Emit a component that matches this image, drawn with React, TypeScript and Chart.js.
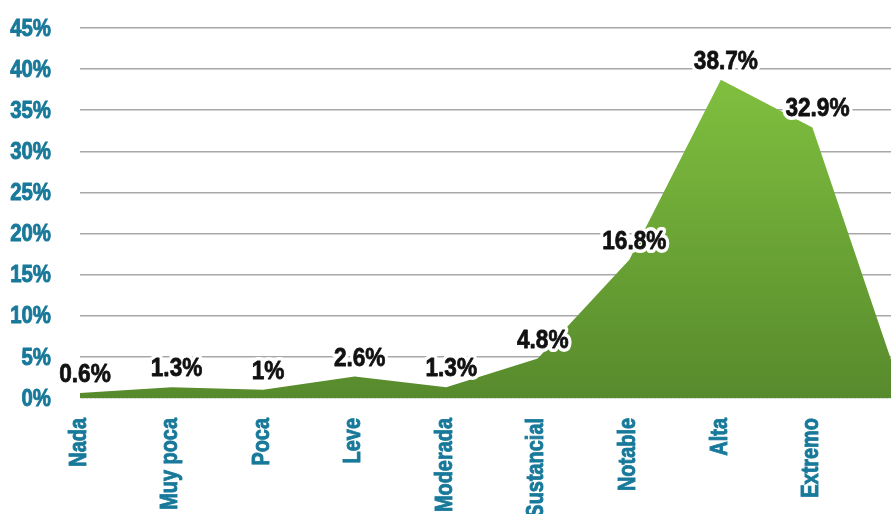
import React, { useEffect, useRef } from "react";
import { Chart, registerables } from "chart.js";

Chart.register(...registerables);

const categories = ["Nada", "Muy poca", "Poca", "Leve", "Moderada", "Sustancial", "Notable", "Alta", "Extremo", ""];
const values = [0.6, 1.3, 1, 2.6, 1.3, 4.8, 16.8, 38.7, 32.9, 0];
const valueLabels = ["0.6%", "1.3%", "1%", "2.6%", "1.3%", "4.8%", "16.8%", "38.7%", "32.9%", ""];
const yTicks = [0, 5, 10, 15, 20, 25, 30, 35, 40, 45];

const FONT = '"Liberation Sans", Arial, sans-serif';
const TEAL = "#18799a";

function drawScaled(ctx: any, txt: string, x: number, y: number, sx: number, rot: number) {
  ctx.save();
  ctx.translate(x, y);
  if (rot) ctx.rotate(rot);
  ctx.scale(sx, 1);
  ctx.fillText(txt, 0, 0);
  ctx.strokeText(txt, 0, 0);
  ctx.restore();
}

const textPlugin = {
  id: "textPlugin",
  afterDatasetsDraw(chart: any) {
    const ctx = chart.ctx;
    const meta = chart.getDatasetMeta(0);
    const area = chart.chartArea;
    const xs = chart.scales.x;
    const ys = chart.scales.y;
    ctx.save();
    // dotted baseline over the area
    ctx.strokeStyle = "rgba(235,245,230,0.75)";
    ctx.lineWidth = 1;
    ctx.setLineDash([2, 2]);
    ctx.beginPath();
    ctx.moveTo(area.left, area.bottom + 0.5);
    ctx.lineTo(area.right, area.bottom + 0.5);
    ctx.stroke();
    ctx.setLineDash([]);

    // y tick labels
    ctx.fillStyle = TEAL;
    ctx.strokeStyle = TEAL;
    ctx.lineWidth = 0.9;
    ctx.font = `bold 24px ${FONT}`;
    ctx.textAlign = "right";
    ctx.textBaseline = "middle";
    yTicks.forEach((v) => {
      drawScaled(ctx, v + "%", area.left - 29, ys.getPixelForValue(v) + 1, 0.85, 0);
    });

    // x category labels (rotated)
    categories.forEach((c, i) => {
      if (!c) return;
      drawScaled(ctx, c, xs.getPixelForValue(i) - 1, area.bottom + 20, 0.83, -Math.PI / 2);
    });

    // value labels
    ctx.font = `bold 26px ${FONT}`;
    ctx.textAlign = "center";
    ctx.textBaseline = "alphabetic";
    ctx.lineJoin = "round";
    meta.data.forEach((pt: any, i: number) => {
      const txt = valueLabels[i];
      if (!txt) return;
      ctx.save();
      ctx.translate(pt.x + 5, pt.y - 11);
      ctx.scale(0.87, 1);
      ctx.strokeStyle = "#ffffff";
      ctx.lineWidth = 8;
      ctx.strokeText(txt, 0, 0);
      ctx.fillStyle = "#111111";
      ctx.fillText(txt, 0, 0);
      ctx.strokeStyle = "#111111";
      ctx.lineWidth = 0.8;
      ctx.strokeText(txt, 0, 0);
      ctx.restore();
    });
    ctx.restore();
  },
};

export default function App() {
  const ref = useRef<HTMLCanvasElement>(null);
  useEffect(() => {
    if (!ref.current) return;
    const chart = new Chart(ref.current, {
      type: "line",
      data: {
        labels: categories,
        datasets: [
          {
            data: values,
            fill: "origin",
            borderWidth: 0,
            pointRadius: 0,
            tension: 0,
            backgroundColor: (c: any) => {
              const a = c.chart.chartArea;
              if (!a) return "#6aa535";
              const g = c.chart.ctx.createLinearGradient(0, a.top, 0, a.bottom);
              g.addColorStop(0, "#86c842");
              g.addColorStop(1, "#578a2c");
              return g;
            },
          },
        ],
      },
      options: {
        responsive: false,
        animation: false,
        devicePixelRatio: 1,
        layout: { padding: { top: 28, right: 0, left: 0, bottom: 0 } },
        plugins: { legend: { display: false }, tooltip: { enabled: false } },
        scales: {
          x: {
            offset: false,
            grid: { display: false, drawTicks: false },
            border: { display: false },
            ticks: { display: false, autoSkip: false },
            afterFit: (s: any) => {
              s.height = 116;
              s.paddingLeft = 0;
              s.paddingRight = 0;
            },
          },
          y: {
            min: 0,
            max: 45,
            afterBuildTicks: (s: any) => {
              s.ticks = yTicks.map((v) => ({ value: v }));
            },
            grid: { color: "#a8a8a8", lineWidth: 1.5, drawTicks: false },
            border: { display: false },
            ticks: { display: false },
            afterFit: (s: any) => {
              s.width = 80;
              s.paddingTop = 0;
              s.paddingBottom = 0;
            },
          },
        },
      },
      plugins: [textPlugin],
    });
    return () => chart.destroy();
  }, []);
  return (
    <div style={{ position: "fixed", left: 0, top: 0, width: 891, height: 514, overflow: "hidden" }}>
      <canvas ref={ref} width={904} height={514} style={{ width: 904, height: 514, display: "block" }} />
    </div>
  );
}
